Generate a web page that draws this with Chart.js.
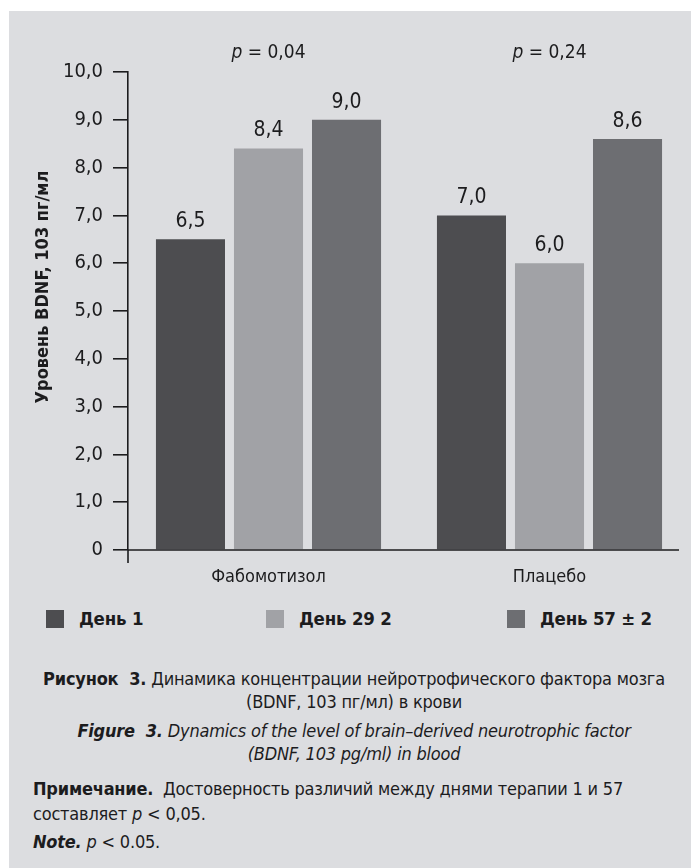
<!DOCTYPE html>
<html>
<head>
<meta charset="utf-8">
<script src="https://cdn.jsdelivr.net/npm/chart.js@4.4.1/dist/chart.umd.min.js"></script>
<style>
  body { margin: 0; width: 691px; height: 868px; background: #fff; position: relative; overflow: hidden;
         font-family: "Liberation Sans Narrow", "DejaVu Sans Condensed", sans-serif; color: #1c1c1e; }
  #panel { position: absolute; left: 9px; top: 11px; width: 682px; height: 857px; background: #dcdde0; }
  #wrap { position: absolute; left: 0; top: 0; width: 691px; height: 600px; }
  .leg { position: absolute; top: 610px; font-weight: bold; font-size: 18.5px; line-height: 18px; white-space: nowrap; letter-spacing: -0.2px; }
  .leg span.box { display: inline-block; width: 18px; height: 18px; vertical-align: top; margin-right: 15px; }
  .line { position: absolute; white-space: nowrap; font-size: 18px; line-height: 20px; letter-spacing: -0.2px; }
  .c { left: 0; width: 708px; text-align: center; }
  .l { left: 33px; }
</style>
</head>
<body>
<div id="panel"></div>
<div id="wrap"><canvas id="chart"></canvas></div>
<div id="legend"></div>

<div class="line c" style="top:669px"><b>Рисунок&nbsp; 3.</b> Динамика концентрации нейротрофического фактора мозга</div>
<div class="line c" style="top:692px">(BDNF, 103 пг/мл) в крови</div>
<div class="line c" style="top:721px"><b><i>Figure&nbsp; 3.</i></b> <i>Dynamics of the level of brain–derived neurotrophic factor</i></div>
<div class="line c" style="top:744px"><i>(BDNF, 103 pg/ml) in blood</i></div>
<div class="line l" style="top:779px"><b>Примечание.</b>&nbsp; Достоверность различий между днями терапии 1 и 57</div>
<div class="line l" style="top:804px">составляет <i>p</i> &lt; 0,05.</div>
<div class="line l" style="top:832px"><b><i>Note.</i></b> <i>p</i> &lt; 0.05.</div>

<script>
// groups and series
const groups = ["Фабомотизол", "Плацебо"];
const seriesNames = ["День 1", "День 29 2", "День 57 ± 2"];
const day1 = [6.5, 7.0];
const day29 = [8.4, 6.0];
const day57 = [9.0, 8.6];
const pValues = ["0,04", "0,24"];
const yTicks = ["0", "1,0", "2,0", "3,0", "4,0", "5,0", "6,0", "7,0", "8,0", "9,0", "10,0"];
const yTitle = "Уровень BDNF, 103 пг/мл";

const colors = ["#4d4d50", "#a1a2a6", "#6d6e72"];
const legendLeft = [46, 266, 507];
const ink = "#1c1c1e";
const fontFam = '"Liberation Sans Narrow", "DejaVu Sans Condensed", sans-serif';

// legend in html
const legend = document.getElementById("legend");
seriesNames.forEach((name, i) => {
    const d = document.createElement("div");
    d.className = "leg";
    d.style.left = legendLeft[i] + "px";
    d.innerHTML = '<span class="box" style="background:' + colors[i] + '"></span>' + name;
    legend.appendChild(d);
});

const fmt = v => v.toFixed(1).replace(".", ",");

const extras = {
    id: "extras",
    afterDatasetsDraw(chart) {
        const ctx = chart.ctx;
        const area = chart.chartArea;
        const x = chart.scales.x;
        ctx.save();
        ctx.fillStyle = ink;

        // value labels over bars
        ctx.font = "21px " + fontFam;
        ctx.textAlign = "center";
        ctx.textBaseline = "alphabetic";
        chart.data.datasets.forEach((ds, di) => {
            chart.getDatasetMeta(di).data.forEach((bar, i) => {
                ctx.fillText(fmt(ds.data[i]), bar.x, bar.y - 12);
            });
        });

        // p values above groups
        groups.forEach((g, i) => {
            const cx = x.getPixelForValue(i);
            ctx.font = "italic 19px " + fontFam;
            const wp = ctx.measureText("p").width;
            ctx.font = "19px " + fontFam;
            const rest = " = " + pValues[i];
            const wr = ctx.measureText(rest).width;
            const sx = cx - (wp + wr) / 2;
            ctx.textAlign = "left";
            ctx.font = "italic 19px " + fontFam;
            ctx.fillText("p", sx, area.top - 14);
            ctx.font = "19px " + fontFam;
            ctx.fillText(rest, sx + wp, area.top - 14);
        });

        // y axis title
        ctx.save();
        ctx.translate(43, (area.top + area.bottom) / 2 - 24);
        ctx.rotate(-Math.PI / 2);
        ctx.textAlign = "center";
        ctx.textBaseline = "middle";
        ctx.font = "bold 18px " + fontFam;
        ctx.fillText(yTitle, 0, 0);
        ctx.restore();

        // x axis line and the stub of the y axis below it
        ctx.strokeStyle = ink;
        ctx.lineWidth = 1.6;
        ctx.beginPath();
        ctx.moveTo(area.left, area.bottom);
        ctx.lineTo(area.right - 11, area.bottom);
        ctx.moveTo(area.left, area.bottom);
        ctx.lineTo(area.left, area.bottom + 13);
        ctx.stroke();
        ctx.restore();
    }
};

new Chart(document.getElementById("chart"), {
    type: "bar",
    data: {
        labels: groups,
        datasets: [
            { label: seriesNames[0], data: day1, backgroundColor: colors[0] },
            { label: seriesNames[1], data: day29, backgroundColor: colors[1] },
            { label: seriesNames[2], data: day57, backgroundColor: colors[2] }
        ]
    },
    options: {
        responsive: true,
        maintainAspectRatio: false,
        animation: false,
        datasets: { bar: { categoryPercentage: 0.833, barPercentage: 0.885 } },
        layout: { padding: { left: 0, right: 1, top: 72, bottom: 0 } },
        plugins: { legend: { display: false }, tooltip: { enabled: false } },
        scales: {
            x: {
                afterFit(scale) { scale.height = 50; },
                grid: { display: false, drawTicks: false },
                border: { display: false },
                ticks: { color: ink, font: { family: fontFam, size: 18 }, padding: 17 }
            },
            y: {
                min: 0,
                max: 10,
                afterFit(scale) { scale.width = 128; },
                border: { display: true, color: ink, width: 1.6 },
                grid: { drawOnChartArea: false, drawTicks: true, tickLength: 15, color: ink, lineWidth: 1.6 },
                ticks: {
                    stepSize: 1,
                    color: ink,
                    padding: 10,
                    font: { family: fontFam, size: 20 },
                    callback: (v, i) => yTicks[i]
                }
            }
        }
    },
    plugins: [extras]
});
</script>
</body>
</html>
